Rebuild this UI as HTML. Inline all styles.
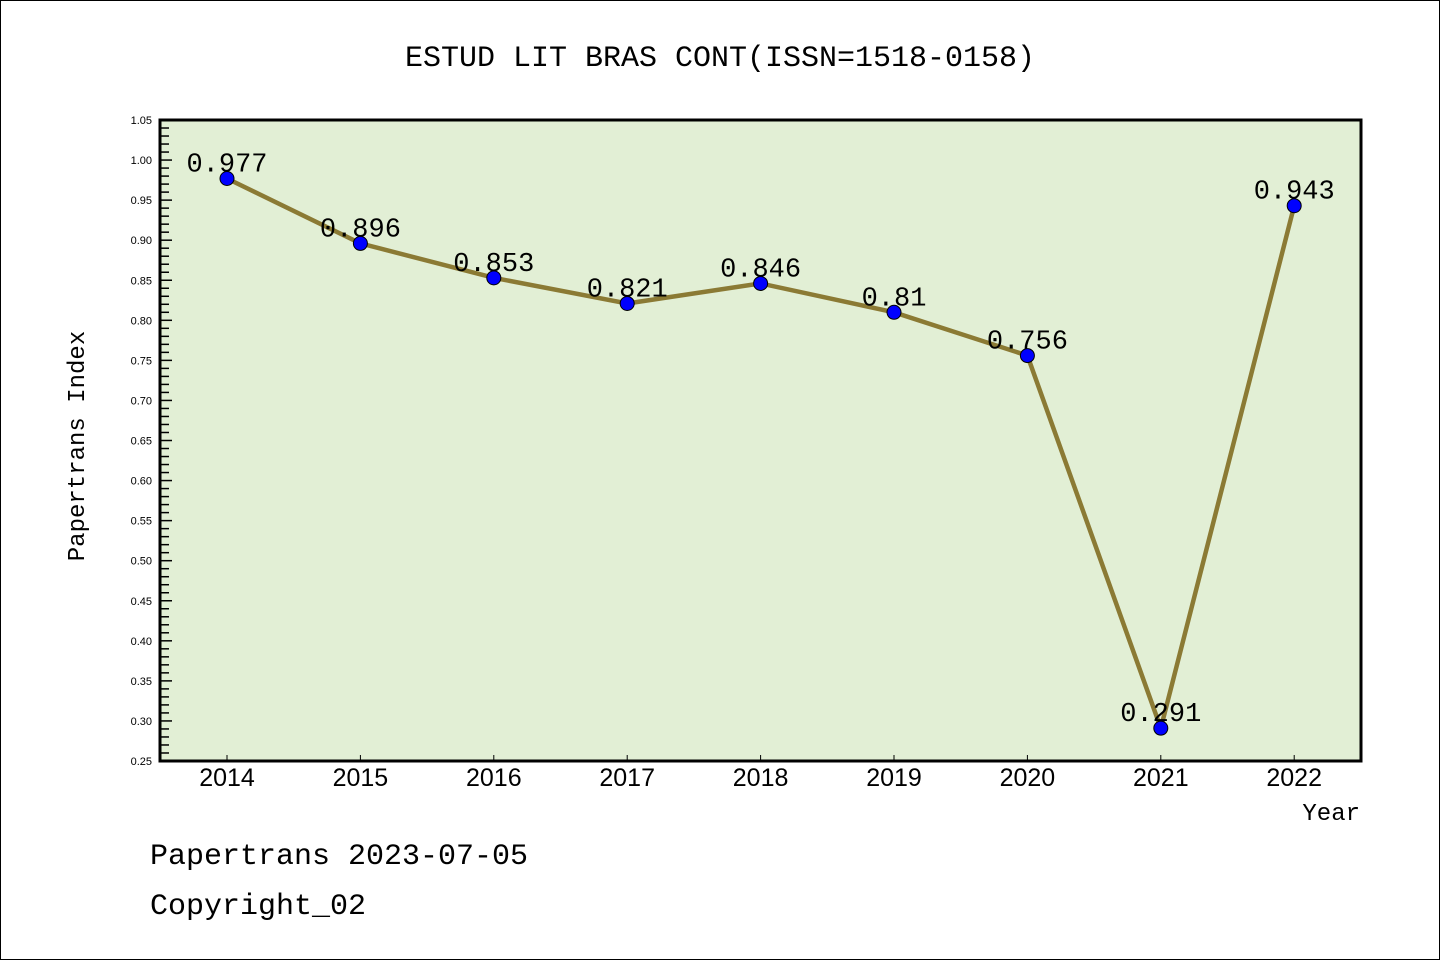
<!DOCTYPE html>
<html><head><meta charset="utf-8"><style>
body{margin:0;background:#fff}
svg{display:block;font-family:"Liberation Mono","Noto Sans CJK SC",monospace}
</style></head><body>
<svg width="1440" height="960" id="c">
<rect x="0.5" y="0.5" width="1439" height="959" fill="#fff" stroke="#000"/>
<text x="720" y="66" text-anchor="middle" font-size="30">ESTUD LIT BRAS CONT(ISSN=1518-0158)</text>
<rect x="160" y="120" width="1201" height="641" fill="#e2efd5"/>
<g id="axes"></g>
<g id="marks"></g>
<rect x="160" y="120" width="1201" height="641" fill="none" stroke="#000" stroke-width="3"/>
<text transform="translate(84,446) rotate(-90)" text-anchor="middle" font-size="24">Papertrans Index</text>
<text x="1360" y="820" text-anchor="end" font-size="24">Year</text>
<text x="150" y="864" font-size="30">Papertrans 2023-07-05</text>
<text x="150" y="914" font-size="30">Copyright_02</text>
</svg>
<script>
const years=["2014","2015","2016","2017","2018","2019","2020","2021","2022"];
const values=[0.977,0.896,0.853,0.821,0.846,0.81,0.756,0.291,0.943];
const labels=["0.977","0.896","0.853","0.821","0.846","0.81","0.756","0.291","0.943"];
const yTicks=["0.25","0.30","0.35","0.40","0.45","0.50","0.55","0.60","0.65","0.70","0.75","0.80","0.85","0.90","0.95","1.00","1.05"];
const NS="http://www.w3.org/2000/svg";
const x=i=>227+i*133.4;
const y=v=>761-(v-0.25)/0.8*641;
function mk(t,a,p){const e=document.createElementNS(NS,t);for(const k in a)e.setAttribute(k,a[k]);p.appendChild(e);return e;}
const ax=document.getElementById('axes'),mg=document.getElementById('marks');
for(let k=0;k<=80;k++){const v=0.25+k*0.01;const len=k%5==0?12:9;
 const t=mk('line',{x1:160,x2:160+len,y1:y(v),y2:y(v),stroke:'#000','stroke-width':1.5},ax);
 }
yTicks.forEach(s=>{const t=mk('text',{x:152,y:y(+s)+4,'text-anchor':'end','font-size':11,'font-family':'Liberation Sans,sans-serif'},ax);t.textContent=s;
 });
years.forEach((yr,i)=>{const l=mk('line',{x1:x(i),x2:x(i),y1:761,y2:755,stroke:'#000','stroke-width':1},ax);
 
 const t=mk('text',{x:x(i),y:786,'text-anchor':'middle','font-size':25,'font-family':'Liberation Sans,sans-serif'},ax);t.textContent=yr;
 });
const pl=mk('polyline',{points:values.map((v,i)=>x(i)+','+y(v)).join(' '),fill:'none',stroke:'#8b7a34','stroke-width':4.5},mg);

values.forEach((v,i)=>{const c=mk('circle',{cx:x(i),cy:y(v),r:7,fill:'#0000ff',stroke:'#000','stroke-width':1},mg);
 
 const t=mk('text',{x:x(i),y:y(v)-7,'text-anchor':'middle','font-size':27},mg);t.textContent=labels[i];
 });
</script>
</body></html>
